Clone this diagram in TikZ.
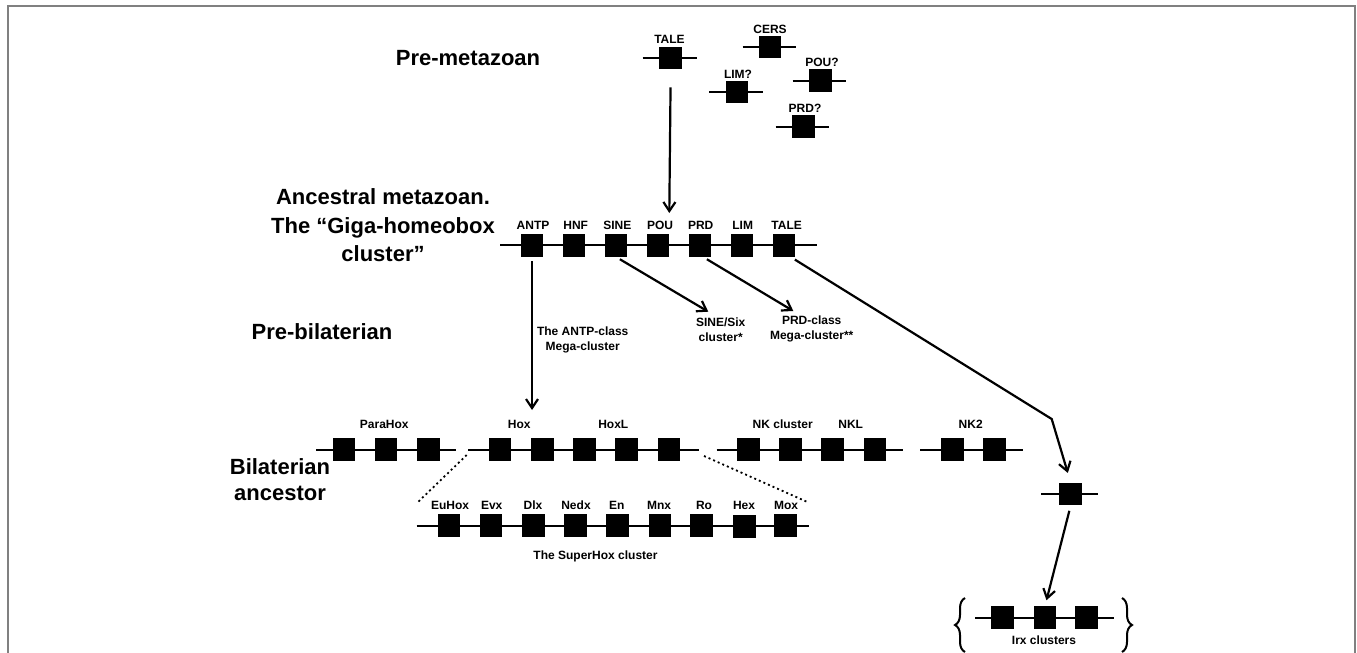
\documentclass[tikz,border=0pt]{standalone}
\usepackage{fontspec}
\setmainfont{Liberation Sans}
\usetikzlibrary{arrows.meta,decorations.pathreplacing}
\begin{document}
\begin{tikzpicture}[x=1pt,y=-1pt,
  gene/.style={fill=black, minimum width=22.5pt, minimum height=22.5pt, inner sep=0pt},
  lbl/.style={font=\fontsize{12}{15}\selectfont\bfseries, inner sep=0pt, align=center},
  big/.style={font=\fontsize{22}{28.5}\selectfont\bfseries, inner sep=0pt, align=center},
  chrom/.style={line width=2.2pt},
  arr/.style={line width=2.2pt, -{Straight Barb[length=9pt,width=12pt,line width=2.2pt]}},
  dots/.style={line width=1.8pt, dash pattern=on 2pt off 3pt},
  brc/.style={line width=2pt, decorate, decoration={brace, amplitude=10pt}},
  frame/.style={draw=gray, line width=2pt}]
\useasboundingbox (0,0) rectangle (1357,653);
\draw[frame] (8,700) -- (8,5.5) -- (1355,5.5) -- (1355,700);

% stage labels
\node[big] (pm) at (468,58) {Pre-metazoan};
\node[big] (am) at (383,225.5) {Ancestral metazoan.\\The “Giga-homeobox\\cluster”};
\node[big] (pb) at (322,332) {Pre-bilaterian};
\node[big, font=\fontsize{22}{26}\selectfont\bfseries] (ba) at (280,480) {Bilaterian\\ancestor};

% pre-metazoan genes
\draw[chrom] (642.7,58) -- (696.7,58);
\draw[chrom] (742.7,47) -- (796,47);
\draw[chrom] (709,92) -- (762.7,92);
\draw[chrom] (792.7,80.7) -- (846,80.7);
\draw[chrom] (775.7,126.7) -- (829,126.7);
\node[gene] (t0) at (670.7,58) {};
\node[gene] (c0) at (770,47) {};
\node[gene] (l0) at (737,92) {};
\node[gene] (p0) at (820.5,80.7) {};
\node[gene] (r0) at (803.5,126.7) {};
\node[lbl] (t0l) at (669.5,39) {TALE};
\node[lbl] (c0l) at (770,29) {CERS};
\node[lbl] (l0l) at (738,74) {LIM?};
\node[lbl] (p0l) at (822,62) {POU?};
\node[lbl] (r0l) at (805,108) {PRD?};

% ancestral giga cluster
\draw[chrom] (500,245) -- (816.7,245);
\node[gene] (aANTP) at (532,245.5) {};
\node[gene] (aHNF)  at (574,245.5) {};
\node[gene] (aSINE) at (616,245.5) {};
\node[gene] (aPOU)  at (658,245.5) {};
\node[gene] (aPRD)  at (700,245.5) {};
\node[gene] (aLIM)  at (742,245.5) {};
\node[gene] (aTALE) at (784,245.5) {};
\node[lbl] (lANTP) at (533,225.7) {ANTP};
\node[lbl] (lHNF)  at (575.7,225.7) {HNF};
\node[lbl] (lSINE) at (617.3,225.7) {SINE};
\node[lbl] (lPOU)  at (660,225.7) {POU};
\node[lbl] (lPRD)  at (700.7,225.7) {PRD};
\node[lbl] (lLIM)  at (742.7,225.7) {LIM};
\node[lbl] (lTALE) at (786.7,225.7) {TALE};

% arrows from ancestral cluster
\coordinate (tip0) at (669.3,213);
\draw[arr, shorten <=18pt] (t0.south) -- (tip0);
\coordinate (tipA) at (532,410);
\draw[arr, shorten <=4.5pt] (aANTP.south) -- (tipA);
\coordinate (tipS) at (708.3,311.7);
\draw[arr, shorten <=4.5pt] (aSINE.south) -- (tipS);
\coordinate (tipP) at (793.3,311);
\draw[arr, shorten <=4.5pt] (aPRD.-75) -- (tipP);
\node[lbl] (antpl) at (582.7,340) {The ANTP-class\\Mega-cluster};
\node[lbl] (sinel) at (720.7,329.5) {SINE/Six\\cluster*};
\node[lbl] (prdl) at (811.7,329) {PRD-class\\Mega-cluster**};

% bilaterian clusters
\draw[chrom] (316,450) -- (456,450);
\draw[chrom] (468.3,450) -- (699,450);
\draw[chrom] (716.7,450) -- (902.7,450);
\draw[chrom] (920,450) -- (1023.3,450);
\node[gene] (ph1) at (344,449.5) {};
\node[gene] (ph2) at (386,449.5) {};
\node[gene] (ph3) at (428.3,449.5) {};
\node[gene] (hx1) at (500,449.5) {};
\node[gene] (hx2) at (542.3,449.5) {};
\node[gene] (hx3) at (584.3,449.5) {};
\node[gene] (hx4) at (626.7,449.5) {};
\node[gene] (hx5) at (669,449.5) {};
\node[gene] (nk1) at (748.3,449.5) {};
\node[gene] (nk2) at (790.7,449.5) {};
\node[gene] (nk3) at (832.7,449.5) {};
\node[gene] (nk4) at (875,449.5) {};
\node[gene] (nkb1) at (952.3,449.5) {};
\node[gene] (nkb2) at (994.7,449.5) {};
\node[lbl] (lph) at (384.3,424) {ParaHox};
\node[lbl] (lhx) at (519.3,424) {Hox};
\node[lbl] (lhxl) at (613.3,424) {HoxL};
\node[lbl] (lnk) at (782.7,424) {NK cluster};
\node[lbl] (lnkl) at (850.7,424) {NKL};
\node[lbl] (lnk2) at (970.7,424) {NK2};

% SuperHox
\coordinate (dl1) at (466.7,455);
\coordinate (dl2) at (417.3,502.7);
\coordinate (dr1) at (704,456);
\coordinate (dr2) at (809,502.7);
\draw[dots] (dl1) -- (dl2);
\draw[dots] (dr1) -- (dr2);
\draw[chrom] (416.7,525.7) -- (809,525.7);
\node[gene] (sh1) at (449,525.5) {};
\node[gene] (sh2) at (491,525.5) {};
\node[gene] (sh3) at (533.3,525.5) {};
\node[gene] (sh4) at (575.7,525.5) {};
\node[gene] (sh5) at (617.7,525.5) {};
\node[gene] (sh6) at (660,525.5) {};
\node[gene] (sh7) at (701.7,525.5) {};
\node[gene] (sh8) at (744.3,526.5) {};
\node[gene] (sh9) at (785.7,525.5) {};
\node[lbl] (lsh1) at (450,505) {EuHox};
\node[lbl] (lsh2) at (491.7,505) {Evx};
\node[lbl] (lsh3) at (533,505) {Dlx};
\node[lbl] (lsh4) at (576,505) {Nedx};
\node[lbl] (lsh5) at (616.7,505) {En};
\node[lbl] (lsh6) at (659,505) {Mnx};
\node[lbl] (lsh7) at (704,505) {Ro};
\node[lbl] (lsh8) at (744,505) {Hex};
\node[lbl] (lsh9) at (786,505) {Mox};
\node[lbl] (lshc) at (595.5,556) {The SuperHox cluster};

% TALE lineage to Irx
\draw[chrom] (1041.3,494) -- (1098.3,494);
\node[gene] (s0) at (1070.7,494) {};
\coordinate (bend) at (1051.7,419);
\draw[arr, shorten <=5pt, shorten >=10pt] (aTALE.-60) -- (bend) -- (s0.north);
\draw[chrom] (975,618.3) -- (1114,618.3);
\node[gene] (irx1) at (1002.5,617.5) {};
\node[gene] (irx2) at (1045,617.5) {};
\node[gene] (irx3) at (1086.7,617.5) {};
\node[lbl] (lirx) at (1044,640) {Irx clusters};
\draw[arr, shorten <=5.5pt, shorten >=6pt] (s0.south) -- (irx2.north);
\coordinate (bl1) at (965,652);
\coordinate (bl2) at (965,598);
\coordinate (br1) at (1122,598);
\coordinate (br2) at (1122,652);
\draw[brc] (bl1) -- (bl2);
\draw[brc] (br1) -- (br2);
\end{tikzpicture}
\end{document}
